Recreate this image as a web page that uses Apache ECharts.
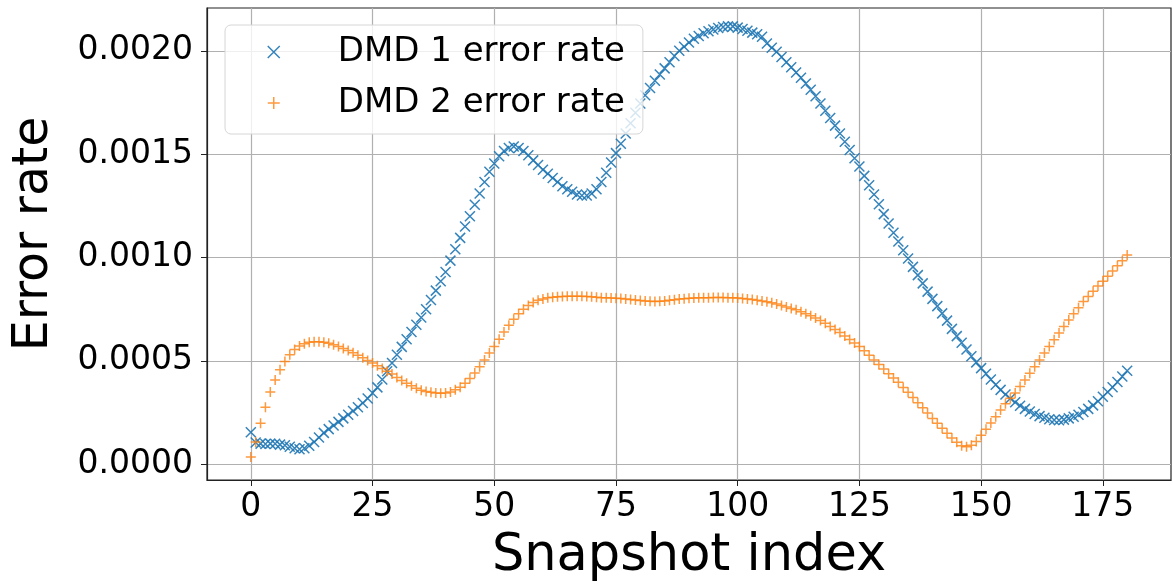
<!DOCTYPE html>
<html>
<head>
<meta charset="utf-8">
<script src="https://cdn.jsdelivr.net/npm/echarts@6/dist/echarts.min.js"></script>
<style>
html,body{margin:0;padding:0;background:#fff;}
#chart{width:1173px;height:587px;}
</style>
</head>
<body>
<div id="chart"></div>
<script>
const seriesNames = ['DMD 1 error rate', 'DMD 2 error rate'];
const xTicks = [0, 25, 50, 75, 100, 125, 150, 175];
const yTicks = [0, 0.0005, 0.0010, 0.0015, 0.0020];

const dmd1 = [
0.000155,0.000105,0.000100,0.000098,0.000100,0.000099,0.000095,0.000092,0.000085,0.000078,
0.000073,0.000078,0.000090,0.000108,0.000130,0.000152,0.000170,0.000188,0.000205,0.000222,
0.000240,0.000258,0.000276,0.000296,0.000318,0.000345,0.000372,0.000410,0.000450,0.000490,
0.000530,0.000568,0.000605,0.000640,0.000675,0.000710,0.000750,0.000795,0.000840,0.000885,
0.000930,0.000985,0.001040,0.001095,0.001150,0.001200,0.001255,0.001310,0.001365,0.001415,
0.001455,0.001490,0.001515,0.001530,0.001537,0.001530,0.001515,0.001495,0.001470,0.001448,
0.001425,0.001405,0.001385,0.001365,0.001345,0.001330,0.001318,0.001305,0.001300,0.001300,
0.001310,0.001330,0.001365,0.001410,0.001460,0.001505,0.001550,0.001600,0.001650,0.001700,
0.001745,0.001785,0.001820,0.001855,0.001885,0.001915,0.001945,0.001975,0.002000,0.002020,
0.002040,0.002058,0.002072,0.002085,0.002095,0.002103,0.002110,0.002115,0.002118,0.002118,
0.002112,0.002105,0.002097,0.002088,0.002080,0.002068,0.002035,0.002015,0.001995,0.001970,
0.001945,0.001920,0.001895,0.001870,0.001842,0.001812,0.001780,0.001745,0.001710,0.001675,
0.001638,0.001600,0.001560,0.001520,0.001480,0.001440,0.001395,0.001350,0.001305,0.001258,
0.001210,0.001165,0.001120,0.001078,0.001035,0.000995,0.000955,0.000915,0.000875,0.000835,
0.000800,0.000765,0.000730,0.000695,0.000655,0.000620,0.000588,0.000555,0.000523,0.000493,
0.000465,0.000438,0.000410,0.000385,0.000360,0.000338,0.000318,0.000300,0.000283,0.000268,
0.000255,0.000243,0.000233,0.000225,0.000218,0.000214,0.000213,0.000216,0.000222,0.000230,
0.000240,0.000253,0.000268,0.000285,0.000305,0.000327,0.000350,0.000373,0.000398,0.000425,
0.000452
];

const dmd2 = [
0.000035,0.000108,0.000198,0.000276,0.000350,0.000408,0.000457,0.000497,0.000530,0.000555,
0.000572,0.000583,0.000590,0.000593,0.000593,0.000590,0.000585,0.000578,0.000570,0.000560,
0.000550,0.000540,0.000528,0.000515,0.000502,0.000490,0.000477,0.000463,0.000450,0.000437,
0.000420,0.000405,0.000392,0.000380,0.000368,0.000358,0.000352,0.000348,0.000345,0.000344,
0.000345,0.000350,0.000360,0.000373,0.000392,0.000415,0.000442,0.000472,0.000505,0.000538,
0.000570,0.000605,0.000640,0.000672,0.000702,0.000728,0.000750,0.000768,0.000782,0.000793,
0.000800,0.000805,0.000808,0.000810,0.000812,0.000813,0.000813,0.000813,0.000813,0.000812,
0.000810,0.000808,0.000806,0.000805,0.000804,0.000803,0.000802,0.000800,0.000797,0.000795,
0.000792,0.000790,0.000788,0.000787,0.000788,0.000790,0.000793,0.000796,0.000799,0.000801,
0.000803,0.000804,0.000805,0.000806,0.000806,0.000807,0.000807,0.000807,0.000806,0.000805,
0.000804,0.000802,0.000800,0.000797,0.000794,0.000790,0.000786,0.000781,0.000775,0.000768,
0.000761,0.000754,0.000747,0.000738,0.000728,0.000718,0.000707,0.000695,0.000682,0.000667,
0.000652,0.000637,0.000621,0.000604,0.000587,0.000570,0.000549,0.000527,0.000505,0.000483,
0.000461,0.000438,0.000417,0.000397,0.000372,0.000348,0.000323,0.000298,0.000273,0.000248,
0.000222,0.000198,0.000174,0.000150,0.000127,0.000106,0.000090,0.000085,0.000092,0.000110,
0.000140,0.000170,0.000200,0.000230,0.000262,0.000293,0.000320,0.000345,0.000376,0.000408,
0.000440,0.000472,0.000505,0.000538,0.000570,0.000602,0.000635,0.000667,0.000698,0.000728,
0.000757,0.000787,0.000812,0.000837,0.000862,0.000885,0.000910,0.000935,0.000960,0.000985,
0.001012
];

const X_PATH = 'path://M0,0L10,10M10,0L0,10';
const PLUS_PATH = 'path://M5,0L5,10M0,5L10,5';
const BLUE = '#1f77b4';
const ORANGE = '#ff7f0e';
const FONT = 'DejaVu Sans';

const chart = echarts.init(document.getElementById('chart'), null, {renderer: 'canvas'});

const option = {
  animation: false,
  backgroundColor: '#ffffff',
  grid: {
    left: 207, right: 2, top: 8, bottom: 107,
    show: true, borderColor: '#222', borderWidth: 1.2, backgroundColor: 'transparent'
  },
  legend: {
    orient: 'vertical',
    left: 225, top: 25,
    padding: [8, 18, 12, 42],
    itemWidth: 12, itemHeight: 12,
    itemGap: 13,
    backgroundColor: 'rgba(255,255,255,0.8)',
    borderColor: '#d6d6d6', borderWidth: 1, borderRadius: 6,
    textStyle: {fontFamily: FONT, fontSize: 34, color: '#000', lineHeight: 38, padding: [0, 0, 0, 53]},
    data: [
      {name: seriesNames[0], icon: X_PATH, itemStyle: {color: 'transparent', borderColor: BLUE, borderWidth: 1.5}},
      {name: seriesNames[1], icon: PLUS_PATH, itemStyle: {color: 'transparent', borderColor: ORANGE, borderWidth: 1.5}}
    ]
  },
  xAxis: {
    type: 'value', min: -9, max: 189,
    name: 'Snapshot index', nameLocation: 'middle', nameGap: 51,
    nameTextStyle: {fontFamily: FONT, fontSize: 51, color: '#000'},
    axisLine: {show: true, onZero: false, lineStyle: {color: '#222', width: 1.2}},
    axisTick: {show: true, inside: false, length: 6, customValues: xTicks, lineStyle: {color: '#222'}},
    axisLabel: {fontFamily: FONT, fontSize: 33, color: '#000', margin: 11, customValues: xTicks},
    splitLine: {show: true, lineStyle: {color: '#b0b0b0', width: 1.2}}
  },
  yAxis: {
    type: 'value', min: -0.000076, max: 0.002207,
    name: 'Error rate', nameLocation: 'middle', nameGap: 148, nameRotate: 90,
    nameTextStyle: {fontFamily: FONT, fontSize: 49, color: '#000', padding: [0, 0, 0, 20]},
    axisLine: {show: true, onZero: false, lineStyle: {color: '#222', width: 1.2}},
    axisTick: {show: true, inside: false, length: 6, customValues: yTicks, lineStyle: {color: '#222'}},
    axisLabel: {fontFamily: FONT, fontSize: 33, color: '#000', margin: 14, customValues: yTicks,
      formatter: v => v.toFixed(4)},
    splitLine: {show: true, lineStyle: {color: '#b0b0b0', width: 1.2}}
  },
  series: [
    {
      name: seriesNames[0], type: 'scatter',
      data: dmd1.map((v, i) => [i, v]),
      symbol: X_PATH, symbolSize: 10,
      itemStyle: {color: 'transparent', borderColor: BLUE, borderWidth: 1.5, opacity: 0.9},
      z: 3
    },
    {
      name: seriesNames[1], type: 'scatter',
      data: dmd2.map((v, i) => [i, v]),
      symbol: PLUS_PATH, symbolSize: 10,
      itemStyle: {color: 'transparent', borderColor: ORANGE, borderWidth: 1.5},
      z: 4
    }
  ]
};
chart.setOption(option);
</script>
</body>
</html>
